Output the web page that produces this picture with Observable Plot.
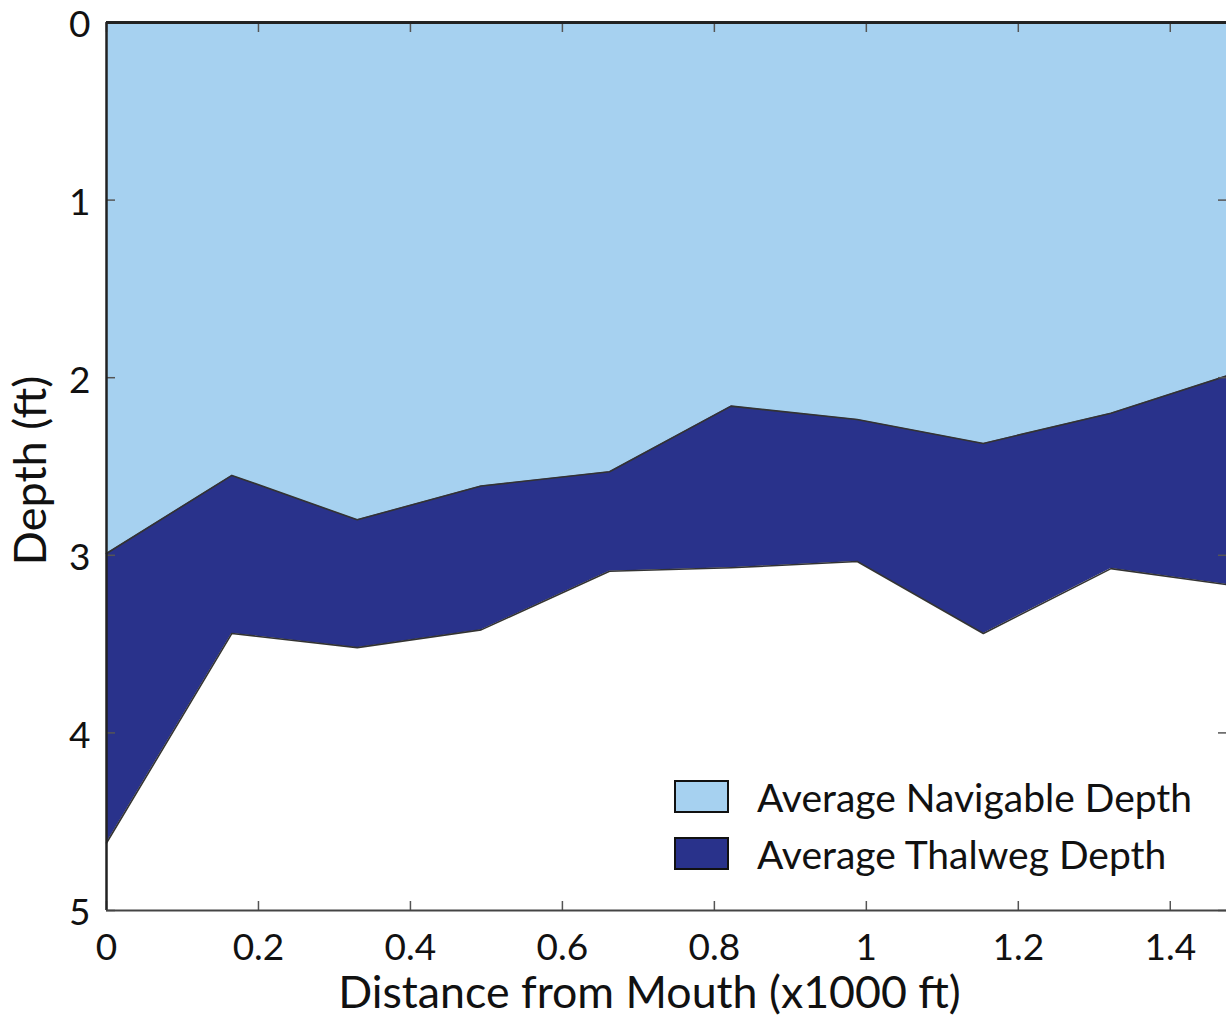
<!DOCTYPE html>
<html><head><meta charset="utf-8">
<script src="https://cdn.jsdelivr.net/npm/d3@7"></script>
<script src="https://cdn.jsdelivr.net/npm/@observablehq/plot@0.6"></script>
<style>
html,body{margin:0;padding:0;background:#fff;overflow:hidden}
#wrap{position:relative;width:1226px;height:1021px}
.legend{position:absolute;left:674px;top:780px;font-family:Lato,sans-serif;font-size:39px;color:#111}
.item{display:flex;align-items:center;height:33px;margin-bottom:24px;white-space:nowrap}
.sw{width:55px;height:33px;border:2.5px solid #111;margin-right:28px;box-sizing:border-box;flex:none}
</style></head><body><div id="wrap"></div>
<script>
const distance = [0, 0.165, 0.330, 0.493, 0.662, 0.822, 0.988, 1.154, 1.322, 1.474];
const navigableDepth = [2.99, 2.55, 2.80, 2.61, 2.53, 2.16, 2.235, 2.37, 2.20, 1.99];
const thalwegDepth = [4.62, 3.44, 3.52, 3.42, 3.09, 3.07, 3.035, 3.44, 3.075, 3.165];
const xTicks = [0, 0.2, 0.4, 0.6, 0.8, 1, 1.2, 1.4];
const yTicks = [0, 1, 2, 3, 4, 5];
const seriesNames = ["Average Navigable Depth", "Average Thalweg Depth"];
const seriesColors = ["#a6d1f0", "#29328b"];
const xLabel = "Distance from Mouth (x1000 ft)";
const yLabel = "Depth (ft)";

const rows = distance.map((x, i) => ({x, nav: navigableDepth[i], thal: thalwegDepth[i]}));
const font = "Lato, sans-serif";
const fmt = d => String(+d.toFixed(1));

const chart = Plot.plot({
  width: 1226,
  height: 1021,
  marginLeft: 106,
  marginRight: 0,
  marginTop: 22,
  marginBottom: 111,
  style: {fontFamily: font, background: "#fff", color: "#111"},
  x: {domain: [0, 1.474], label: null},
  y: {domain: [0, 5], reverse: true, label: null},
  marks: [
    Plot.areaY(rows, {x: "x", y1: 0, y2: "nav", fill: seriesColors[0]}),
    Plot.areaY(rows, {x: "x", y1: "nav", y2: "thal", fill: seriesColors[1]}),
    Plot.lineY(rows, {x: "x", y: "nav", stroke: "#333", strokeWidth: 1.6}),
    Plot.lineY(rows, {x: "x", y: "thal", stroke: "#333", strokeWidth: 1.6}),
    // inward ticks on all sides
    Plot.axisX(xTicks, {anchor: "bottom", tickSize: -9, fill: "none", stroke: "#555", strokeWidth: 1.5, label: null}),
    Plot.axisX(xTicks, {anchor: "top", tickSize: -9, fill: "none", stroke: "#555", strokeWidth: 1.5, label: null}),
    Plot.axisY(yTicks, {anchor: "left", tickSize: -9, fill: "none", stroke: "#555", strokeWidth: 1.5, label: null}),
    Plot.axisY(yTicks, {anchor: "right", tickSize: -9, fill: "none", stroke: "#555", strokeWidth: 1.5, label: null}),
    // tick labels
    Plot.axisX(xTicks, {anchor: "bottom", tickSize: 0, tickPadding: 23, fontSize: 37, tickFormat: fmt, label: null, fill: "#111"}),
    Plot.axisY(yTicks, {anchor: "left", tickSize: 0, tickPadding: 16, dy: 3, fontSize: 37, tickFormat: fmt, label: null, fill: "#111"}),
    // frame
    Plot.ruleX([0], {stroke: "#222", strokeWidth: 2.5}),
    Plot.ruleY([0], {stroke: "#222", strokeWidth: 3}),
    Plot.ruleY([5], {stroke: "#444", strokeWidth: 2}),
    // axis titles
    Plot.text([xLabel], {text: d => d, frameAnchor: "bottom", lineAnchor: "top", textAnchor: "middle", dy: 66, dx: -17, fontSize: 44.7, fill: "#111"}),
    Plot.text([yLabel], {text: d => d, frameAnchor: "left", textAnchor: "middle", rotate: -90, dx: -75, dy: 4, fontSize: 45, fill: "#111"})
  ]
});
const wrap = document.getElementById("wrap");
wrap.appendChild(chart);
const legend = document.createElement("div");
legend.className = "legend";
seriesNames.forEach((name, i) => {
  const item = document.createElement("div");
  item.className = "item";
  const sw = document.createElement("div");
  sw.className = "sw";
  sw.style.background = seriesColors[i];
  const t = document.createElement("span");
  t.textContent = name;
  item.appendChild(sw); item.appendChild(t);
  legend.appendChild(item);
});
wrap.appendChild(legend);
</script></body></html>
